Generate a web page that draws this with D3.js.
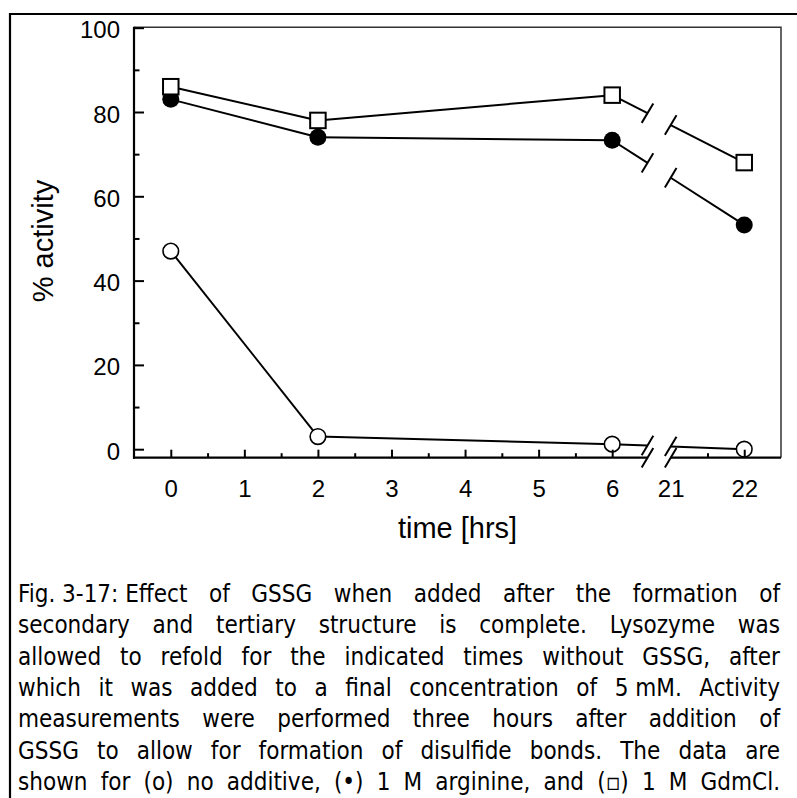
<!DOCTYPE html>
<html><head><meta charset="utf-8">
<script src="https://cdn.jsdelivr.net/npm/d3@7"></script>
<style>body{margin:0;background:#fff} svg{display:block}</style>
</head><body><svg id="c" width="797" height="798"></svg>
<script>
// ---- data ----
const times = [0, 2, 6, 22];
const noAdditive = [47, 3, 1.2, 0];
const arginine = [83, 74, 73.3, 53.2];
const gdmcl = [86, 78, 84, 68];
const xTickValues = [0, 1, 2, 3, 4, 5, 6, 21, 22];
const xMinorValues = [0.5, 1.5, 2.5, 3.5, 4.5, 5.5, 21.5];
const yTickValues = [0, 20, 40, 60, 80, 100];
const yMinorValues = [10, 30, 50, 70, 90];
const xLabel = "time [hrs]";
const yLabel = "% activity";
const breakFrom = 6.48, breakTo = 21;
const captionLines = [
  "Fig.\u00a03-17:\u00a0Effect of GSSG when added after the formation of",
  "secondary and tertiary structure is complete. Lysozyme was",
  "allowed to refold for the indicated times without GSSG, after",
  "which it was added to a final concentration of 5\u00a0mM. Activity",
  "measurements were performed three hours after addition of",
  "GSSG to allow for formation of disulfide bonds. The data are",
  "shown for (o) no additive, (\u2022) 1 M arginine, and (\u25ab) 1 M GdmCl."
];

(function () {
const svg = d3.select("#c");
svg.append("rect").attr("width", 797).attr("height", 798).attr("fill", "#fff");

// piecewise scale with an axis break between breakFrom and breakTo
const x = d3.scaleLinear().domain([-0.5, breakFrom, breakTo, 22.5]).range([134, 647.5, 670.7, 781]);
const y = d3.scaleLinear().domain([0, 100]).range([449.2, 27.7]);
const axisY = 457.7, pLeft = 134, pRight = 781, pTop = 27.3;

// outer frame (top + left)
svg.append("line").attr("x1", 9).attr("x2", 797).attr("y1", 14).attr("y2", 14)
  .attr("stroke", "#000").attr("stroke-width", 2.2);
svg.append("line").attr("x1", 10).attr("x2", 10).attr("y1", 13).attr("y2", 798)
  .attr("stroke", "#000").attr("stroke-width", 2.2);

// plot top/right border
svg.append("path").attr("d", `M${pLeft},${pTop}H${pRight}V${axisY}`)
  .attr("fill", "none").attr("stroke", "#333").attr("stroke-width", 1.5);

const series = [
  {name: "none", vals: noAdditive, type: "open"},
  {name: "arg", vals: arginine, type: "filled"},
  {name: "gdm", vals: gdmcl, type: "square"}
];
const bx1 = x(breakFrom), bx2 = x(breakTo);
const slash = (cx, cy) => `M${cx - 5.8},${cy + 9.7}L${cx + 5.8},${cy - 9.7}`;
const lineGen = d3.line();

const gLines = svg.append("g").attr("fill", "none").attr("stroke", "#000").attr("stroke-width", 2);
series.forEach(s => {
  const pts = times.map((t, i) => [x(t), y(s.vals[i])]);
  for (let i = 0; i < pts.length - 1; i++) {
    const a = pts[i], b = pts[i + 1];
    if (times[i] <= breakFrom && times[i + 1] >= breakTo) {
      const yAt = xx => a[1] + (b[1] - a[1]) * (xx - a[0]) / (b[0] - a[0]);
      gLines.append("path").attr("d", lineGen([a, [bx1, yAt(bx1)]]));
      gLines.append("path").attr("d", lineGen([[bx2, yAt(bx2)], b]));
      gLines.append("path").attr("d", slash(bx1, yAt(bx1)));
      gLines.append("path").attr("d", slash(bx2, yAt(bx2)));
    } else {
      gLines.append("path").attr("d", lineGen([a, b]));
    }
  }
});

// markers
series.forEach(s => {
  const g = svg.append("g");
  times.forEach((t, i) => {
    const cx = x(t), cy = y(s.vals[i]);
    if (s.type === "open") {
      g.append("circle").attr("cx", cx).attr("cy", cy).attr("r", 7.8)
        .attr("fill", "#fff").attr("stroke", "#000").attr("stroke-width", 1.6);
    } else if (s.type === "filled") {
      g.append("circle").attr("cx", cx).attr("cy", cy).attr("r", 8.5).attr("fill", "#000");
    } else {
      g.append("rect").attr("x", cx - 7.75).attr("y", cy - 7.75).attr("width", 15.5).attr("height", 15.5)
        .attr("fill", "#fff").attr("stroke", "#000").attr("stroke-width", 2);
    }
  });
});

// x axis
const xAxis = d3.axisBottom(x).tickValues(xTickValues).tickSizeInner(-8).tickSizeOuter(0).tickPadding(22)
  .tickFormat(d3.format("d"));
const gx = svg.append("g").attr("transform", `translate(0,${axisY})`).call(xAxis);
gx.select(".domain").remove();
gx.selectAll(".tick line").attr("stroke", "#000").attr("stroke-width", 2)
  .filter(d => d === 21).remove();
gx.selectAll(".tick text").attr("font-family", "Liberation Sans, Arial, sans-serif")
  .attr("font-size", 24).attr("fill", "#000");
const gxm = svg.append("g").attr("transform", `translate(0,${axisY})`)
  .call(d3.axisBottom(x).tickValues(xMinorValues).tickSizeInner(-4.5).tickSizeOuter(0).tickFormat(""));
gxm.select(".domain").remove();
gxm.selectAll(".tick line").attr("stroke", "#000").attr("stroke-width", 2);

// x axis line with break
svg.append("path").attr("d", `M${pLeft - 1},${axisY}H${bx1}M${bx2},${axisY}H${pRight}`)
  .attr("stroke", "#000").attr("stroke-width", 2.2).attr("fill", "none");
svg.append("path").attr("d", slash(bx1, axisY) + slash(bx2, axisY))
  .attr("stroke", "#000").attr("stroke-width", 2).attr("fill", "none");

// y axis
const yAxis = d3.axisLeft(y).tickValues(yTickValues).tickSizeInner(-10).tickSizeOuter(0).tickPadding(14);
const gy = svg.append("g").attr("transform", `translate(${pLeft},0)`).call(yAxis);
gy.select(".domain").remove();
gy.selectAll(".tick line").attr("stroke", "#000").attr("stroke-width", 2);
gy.selectAll(".tick text").attr("font-family", "Liberation Sans, Arial, sans-serif")
  .attr("font-size", 24).attr("fill", "#000").attr("dy", "0.42em");
const gym = svg.append("g").attr("transform", `translate(${pLeft},0)`)
  .call(d3.axisLeft(y).tickValues(yMinorValues).tickSizeInner(-5.5).tickSizeOuter(0).tickFormat(""));
gym.select(".domain").remove();
gym.selectAll(".tick line").attr("stroke", "#000").attr("stroke-width", 2);
svg.append("line").attr("x1", pLeft).attr("x2", pLeft).attr("y1", pTop - 0.5).attr("y2", axisY + 1)
  .attr("stroke", "#000").attr("stroke-width", 2.2);

// axis titles
svg.append("text").attr("x", (pLeft + pRight) / 2).attr("y", 538).attr("text-anchor", "middle")
  .attr("font-family", "Liberation Sans, Arial, sans-serif").attr("font-size", 29).text(xLabel);
svg.append("text").attr("transform", "translate(53,241) rotate(-90)").attr("text-anchor", "middle")
  .attr("font-family", "Liberation Sans, Arial, sans-serif").attr("font-size", 29).text(yLabel);

// caption, justified
const capLeft = 18, capRight = 780, capBase0 = 602, capStep = 31.3;
captionLines.forEach((line, li) => {
  const words = line.split(" ");
  const g = svg.append("g").attr("font-family", "DejaVu Sans Condensed, DejaVu Sans, sans-serif")
    .attr("font-size", 24).attr("fill", "#000");
  const nodes = words.map(w => g.append("text").attr("y", capBase0 + li * capStep).text(w));
  let widths = nodes.map(n => n.node().getComputedTextLength());
  let total = d3.sum(widths);
  const minGap = 5;
  const avail = capRight - capLeft;
  if (total + minGap * (words.length - 1) > avail) {
    const k = (avail - minGap * (words.length - 1)) / total;
    nodes.forEach((n, i) => { n.attr("textLength", widths[i] * k).attr("lengthAdjust", "spacingAndGlyphs"); });
    widths = widths.map(w => w * k);
    total = d3.sum(widths);
  }
  const gap = (avail - total) / (words.length - 1);
  let cx = capLeft;
  nodes.forEach((n, i) => { n.attr("x", cx); cx += widths[i] + gap; });
});
})();
</script></body></html>
